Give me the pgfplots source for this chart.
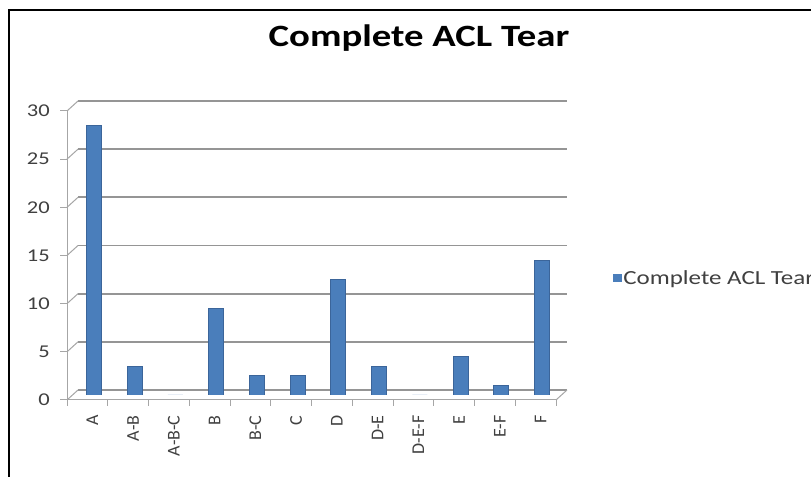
\documentclass[border=0pt]{standalone}
\usepackage{pgfplots}
\pgfplotsset{compat=1.18}
\usepackage{fontspec}
\setmainfont{Carlito}[FakeStretch=1.25]
\newfontfamily\plainfont{Carlito}
\definecolor{barblue}{HTML}{4A7EBB}
\definecolor{baredge}{HTML}{3B659A}
\definecolor{gridgray}{HTML}{959595}
\definecolor{axgray}{HTML}{A6A6A6}
\definecolor{txtgray}{HTML}{404040}

\begin{document}
\begin{tikzpicture}[x=1bp,y=1bp]
\useasboundingbox (0,0) rectangle (811,477);
\clip (0,0) rectangle (811,477);
\fill[white] (0,0) rectangle (811,477);
\draw[line width=2bp] (9,0) -- (9,467) -- (811,467);
\node[anchor=base, font=\fontsize{31bp}{36bp}\selectfont\bfseries] at (419,430) {Complete ACL Tear};

% back wall grid
\begin{axis}[scale only axis, width=489bp, height=289bp, at={(78bp,87bp)}, anchor=south west,
 xmin=-0.5, xmax=11.5, ymin=0, ymax=30, ytick={0,5,...,30}, xtick=\empty,
 ymajorgrids, major grid style={gridgray, line width=1.8bp},
 axis line style={draw=none}, yticklabels={}, major tick length=0pt]
\end{axis}

% bars
\begin{axis}[scale only axis, width=489bp, height=289bp, at={(73.5bp,82bp)}, anchor=south west,
 xmin=-0.5, xmax=11.5, ymin=0, ymax=30, hide axis, ybar, bar width=15bp, bar shift=0pt,
 legend style={at={(axis description cs:1.103,0.405)}, anchor=west, draw=none, fill=none, inner sep=0pt,
   font=\fontsize{20bp}{24bp}\selectfont, text=txtgray},
 legend image code/.code={\fill[barblue] (0bp,-3.5bp) rectangle (7.5bp,3.5bp);}]
\addplot[fill=barblue, draw=baredge, line width=0.8bp] coordinates {(0,28) (1,3) (2,0) (3,9) (4,2) (5,2) (6,12) (7,3) (8,0) (9,4) (10,1) (11,14)};
\addlegendentry{Complete ACL Tear}
\end{axis}

% front axes
\begin{axis}[scale only axis, width=489bp, height=289bp, at={(67bp,77bp)}, anchor=south west,
 xmin=-0.5, xmax=11.5, ymin=0, ymax=30, clip=false,
 axis x line*=bottom, axis y line*=left, axis line style={axgray, line width=1bp, -},
 xtick={0,...,11}, xticklabels={A,A-B,A-B-C,B,B-C,C,D,D-E,D-E-F,E,E-F,F},
 minor xtick={-0.5,0.5,...,11.5},
 ytick={0,5,...,30},
 tick align=outside, major tick length=7bp, minor tick length=6bp,
 tick style={axgray, line width=1bp},
 major x tick style={draw=none},
 yticklabel style={font=\fontsize{18bp}{20bp}\selectfont, text=txtgray, anchor=east, inner xsep=10bp},
 xticklabel style={xshift=5bp, yshift=-5bp, rotate=90, anchor=east, font=\plainfont\fontsize{18bp}{20bp}\selectfont, text=txtgray},
 /pgf/number format/assume math mode=true]
\pgfplotsinvokeforeach{0,5,10,15,20,25,30}{\draw[axgray, line width=1bp] (axis cs:-0.5,#1) -- ++(11bp,10bp);}
\draw[axgray, line width=1bp] (axis cs:11.5,0) -- ++(11bp,10bp);
\end{axis}
\end{tikzpicture}
\end{document}
